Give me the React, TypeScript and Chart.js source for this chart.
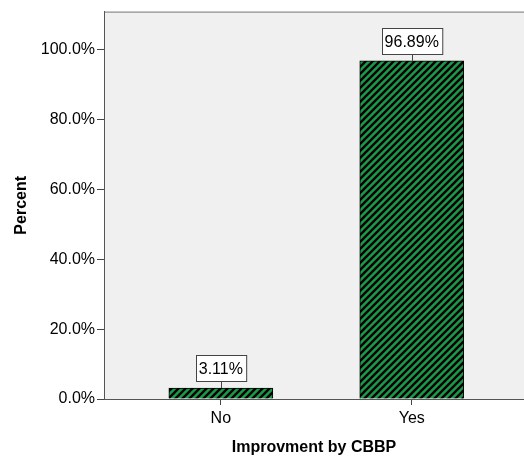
import React, { useEffect, useRef } from "react";
import { Chart, registerables } from "chart.js";

Chart.register(...registerables);

const categories = ["No", "Yes"];
const percents = [3.11, 96.89];
const yTickValues = [0, 20, 40, 60, 80, 100];
const yTitle = "Percent";
const xTitle = "Improvment by CBBP";

const FONT = "'Liberation Sans', Arial, sans-serif";
const GREEN = "#1a9a48";

function makePattern(): CanvasPattern | string {
  const size = 7;
  const c = document.createElement("canvas");
  c.width = size;
  c.height = size;
  const g = c.getContext("2d");
  if (!g) return GREEN;
  g.fillStyle = GREEN;
  g.fillRect(0, 0, size, size);
  g.strokeStyle = "#000";
  g.lineWidth = 2.4;
  g.beginPath();
  g.moveTo(-1, size + 1);
  g.lineTo(size + 1, -1);
  g.moveTo(-1, 1);
  g.lineTo(1, -1);
  g.moveTo(size - 1, size + 1);
  g.lineTo(size + 1, size - 1);
  g.stroke();
  const p = g.createPattern(c, "repeat");
  return p || GREEN;
}

const bgPlugin = {
  id: "plotBg",
  beforeDraw(chart: any) {
    const { ctx, chartArea } = chart;
    ctx.save();
    ctx.fillStyle = "#f0f0f0";
    ctx.fillRect(chartArea.left, chartArea.top, chartArea.right - chartArea.left, chartArea.bottom - chartArea.top);
    ctx.strokeStyle = "#777";
    ctx.lineWidth = 1;
    ctx.beginPath();
    ctx.moveTo(chartArea.left, chartArea.top + 0.5);
    ctx.lineTo(chartArea.right, chartArea.top + 0.5);
    ctx.stroke();
    ctx.restore();
  },
};

const labelPlugin = {
  id: "boxLabels",
  afterDatasetsDraw(chart: any) {
    const { ctx } = chart;
    const meta = chart.getDatasetMeta(0);
    ctx.save();
    ctx.font = `16px ${FONT}`;
    ctx.textAlign = "center";
    ctx.textBaseline = "middle";
    meta.data.forEach((el: any, i: number) => {
      const text = percents[i].toFixed(2) + "%";
      const x = el.x;
      const y = el.y;
      const w = ctx.measureText(text).width + 6;
      const h = 26;
      const gap = 7;
      const bx = Math.round(x - w / 2) + 0.5;
      const by = Math.round(y - gap - h) + 0.5;
      ctx.strokeStyle = "#444";
      ctx.lineWidth = 1;
      ctx.beginPath();
      ctx.moveTo(Math.round(x) + 0.5, y);
      ctx.lineTo(Math.round(x) + 0.5, y - gap);
      ctx.stroke();
      ctx.fillStyle = "#fff";
      ctx.fillRect(bx, by, w, h);
      ctx.strokeRect(bx, by, w, h);
      ctx.fillStyle = "#000";
      ctx.fillText(text, x, by + h / 2 + 1);
    });
    ctx.restore();
  },
};

export default function App() {
  const ref = useRef<HTMLCanvasElement | null>(null);
  useEffect(() => {
    if (!ref.current) return;
    const pattern = makePattern();
    const chart = new Chart(ref.current, {
      type: "bar",
      data: {
        datasets: [
          {
            data: percents.map((v, i) => ({ x: i, y: v })),
            backgroundColor: pattern as any,
            borderColor: "#000",
            borderWidth: 1,
            barThickness: 104,
          },
        ],
      },
      options: {
        responsive: false,
        animation: false,
        layout: { padding: { top: 10, right: 0, left: 0, bottom: 0 } },
        plugins: { legend: { display: false }, tooltip: { enabled: false } },
        scales: {
          x: {
            type: "linear",
            offset: false,
            min: -0.612,
            max: 1.588,
            afterBuildTicks: (s: any) => {
              s.ticks = categories.map((_, i) => ({ value: i }));
            },
            afterFit: (s: any) => {
              s.height = 60;
            },
            ticks: {
              callback: (v: any) => categories[v] ?? "",
              color: "#000",
              font: { family: FONT, size: 16 },
              padding: 4,
              autoSkip: false,
              maxRotation: 0,
            },
            grid: { offset: false, drawOnChartArea: false, drawTicks: true, tickLength: 6, color: "#444" },
            border: { display: true, color: "#555", width: 1 },
            title: {
              display: true,
              text: xTitle,
              color: "#000",
              font: { family: FONT, size: 16, weight: "bold" },
              padding: { top: 0, bottom: 2 },
            },
          },
          y: {
            min: 0,
            max: 111,
            afterBuildTicks: (s: any) => {
              s.ticks = yTickValues.map((v) => ({ value: v }));
            },
            afterFit: (s: any) => {
              s.width = 104;
            },
            ticks: {
              callback: (v: any) => Number(v).toFixed(1) + "%",
              color: "#000",
              font: { family: FONT, size: 16 },
              padding: 2,
            },
            grid: { drawOnChartArea: false, drawTicks: true, tickLength: 7, color: "#444" },
            border: { display: true, color: "#555", width: 1 },
            title: {
              display: true,
              text: yTitle,
              color: "#000",
              font: { family: FONT, size: 16, weight: "bold" },
              padding: { top: 12, bottom: 0 },
            },
          },
        },
      },
      plugins: [bgPlugin, labelPlugin],
    });
    return () => chart.destroy();
  }, []);
  return (
    <div style={{ position: "absolute", left: 0, top: 0, width: 524, height: 459, background: "#fff" }}>
      <canvas ref={ref} width={524} height={459} style={{ display: "block" }} />
    </div>
  );
}
